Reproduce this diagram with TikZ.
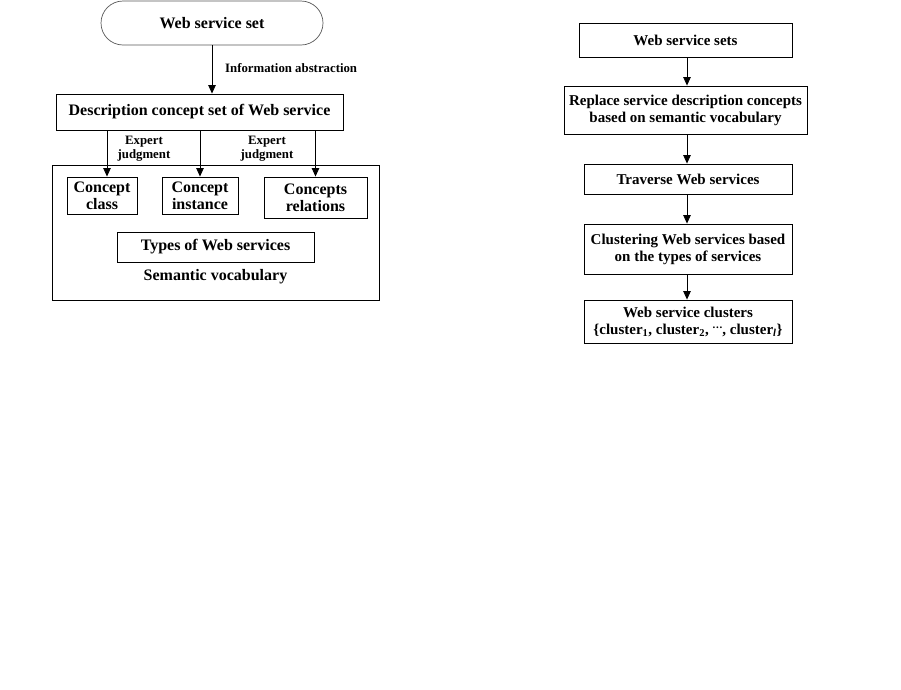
\documentclass[tikz,border=0pt]{standalone}
\usepackage{fontspec}
\setmainfont{Liberation Serif}
\usetikzlibrary{arrows.meta}
\tikzset{
  boxL/.style={draw=black, line width=0.9pt, inner sep=0pt, align=center,
    font=\fontsize{16}{17}\selectfont\bfseries},
  boxR/.style={draw=black, line width=0.9pt, inner sep=0pt, align=center,
    font=\fontsize{15}{17}\selectfont\bfseries},
  lbl/.style={inner sep=0pt, align=center, font=\fontsize{12.8}{14}\selectfont\bfseries},
  arr/.style={line width=0.8pt, -{Triangle[length=8.5pt,width=7.5pt]}}
}
\newcommand{\mydots}{\raisebox{0.75ex}{\fontsize{11}{11}\selectfont .\kern0.8pt.\kern0.8pt.}}
\begin{document}
\begin{tikzpicture}[x=1pt,y=-1pt]
\useasboundingbox[fill=white] (0,0) rectangle (901,689);
% ---------- left flow ----------
\node[boxL, draw=black!65, line width=0.7pt, rounded corners=22pt,
      minimum width=222pt, minimum height=44pt] (ws) at (212,23) {Web service set};
\node[boxL, minimum width=287pt, minimum height=36pt] (desc) at (199.5,112)
  {Description concept set of Web service};
\node[boxL, minimum width=327pt, minimum height=135pt] (vocab) at (215.5,232.5) {};
\node[boxL, minimum width=70pt, minimum height=37pt] (cclass) at (102,195.5) {Concept\\class};
\node[boxL, minimum width=76pt, minimum height=37pt] (cinst) at (200,195.5) {Concept\\instance};
\node[boxL, minimum width=103pt, minimum height=41pt] (crel) at (315.5,197.5) {Concepts\\relations};
\node[boxL, minimum width=197pt, minimum height=30pt] (types) at (215.5,247) {Types of Web services};
\node[boxL, draw=none] (semv) at (215.5,277) {Semantic vocabulary};
\node[lbl, anchor=west] (infa) at (225,68) {Information abstraction};
\node[lbl] (ej1) at (144,149) {Expert\\judgment};
\node[lbl] (ej2) at (267,149) {Expert\\judgment};
\coordinate (e1) at (107,0);
\draw[arr] (ws.south) -- (ws.south |- desc.north);
\draw[arr] (desc.south -| e1) -- (e1 |- cclass.north);
\draw[arr] (desc.south -| cinst.north) -- (cinst.north);
\draw[arr] (desc.south -| crel.north) -- (crel.north);
% ---------- right flow ----------
\node[boxR, minimum width=213pt, minimum height=34pt] (wss) at (685.5,40) {Web service sets};
\node[boxR, minimum width=243pt, minimum height=48pt] (repl) at (685.5,110)
  {Replace service description concepts\\based on semantic vocabulary};
\node[boxR, minimum width=208pt, minimum height=30pt] (trav) at (688,179) {Traverse Web services};
\node[boxR, minimum width=208pt, minimum height=50pt] (clus) at (688,249)
  {Clustering Web services based\\on the types of services};
\node[boxR, minimum width=208pt, minimum height=43pt] (clst) at (688,321.5)
  {Web service clusters\\\{cluster\textsubscript{1}, cluster\textsubscript{2}, \mydots, cluster\textsubscript{\textit{l}}\}};
\coordinate (ax) at (687,0);
\draw[arr] (wss.south -| ax) -- (ax |- repl.north);
\draw[arr] (repl.south -| ax) -- (ax |- trav.north);
\draw[arr] (trav.south -| ax) -- (ax |- clus.north);
\draw[arr] (clus.south -| ax) -- (ax |- clst.north);
\end{tikzpicture}
\end{document}
